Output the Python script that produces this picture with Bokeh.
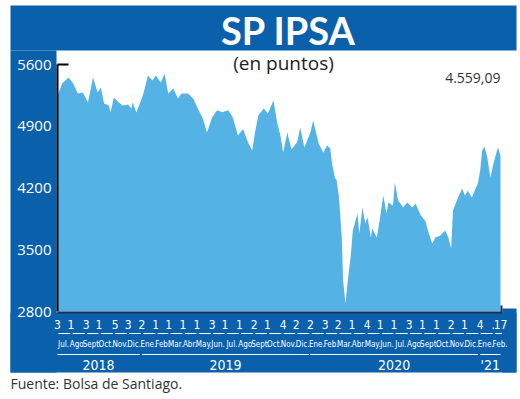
import pandas as pd
from bokeh.plotting import figure
from bokeh.models import Range1d, ColumnDataSource
from bokeh.core.properties import value
from bokeh.embed import file_html
from bokeh.resources import INLINE

# ---------------- data ----------------
dates = [
    "2018-07-03", "2018-07-05", "2018-07-13", "2018-07-27", "2018-08-06", "2018-08-16",
    "2018-08-27", "2018-09-07", "2018-09-18", "2018-09-28", "2018-10-05", "2018-10-12",
    "2018-10-22", "2018-10-26", "2018-11-02", "2018-11-13", "2018-11-21", "2018-12-03",
    "2018-12-10", "2018-12-13", "2018-12-21", "2019-01-04", "2019-01-15", "2019-01-25",
    "2019-02-01", "2019-02-12", "2019-02-20", "2019-02-28", "2019-03-11", "2019-03-21",
    "2019-03-29", "2019-04-12", "2019-04-23", "2019-05-03", "2019-05-14", "2019-05-23",
    "2019-06-03", "2019-06-14", "2019-06-25", "2019-07-08", "2019-07-18", "2019-07-29",
    "2019-08-09", "2019-08-20", "2019-08-29", "2019-09-04", "2019-09-11", "2019-09-23",
    "2019-10-02", "2019-10-14", "2019-10-22", "2019-10-29", "2019-11-04", "2019-11-13",
    "2019-11-22", "2019-12-04", "2019-12-11", "2019-12-20", "2020-01-02", "2020-01-08",
    "2020-01-20", "2020-01-30", "2020-02-07", "2020-02-14", "2020-02-18", "2020-02-24",
    "2020-02-28", "2020-03-04", "2020-03-10", "2020-03-13", "2020-03-18", "2020-03-23",
    "2020-03-30", "2020-04-03", "2020-04-13", "2020-04-17", "2020-04-24", "2020-04-30",
    "2020-05-05", "2020-05-12", "2020-05-15", "2020-05-25", "2020-06-01", "2020-06-08",
    "2020-06-15", "2020-06-19", "2020-06-29", "2020-07-03", "2020-07-10", "2020-07-21",
    "2020-07-30", "2020-08-10", "2020-08-17", "2020-08-28", "2020-09-07", "2020-09-14",
    "2020-09-22", "2020-09-29", "2020-10-09", "2020-10-20", "2020-10-27", "2020-11-02",
    "2020-11-06", "2020-11-17", "2020-11-26", "2020-12-02", "2020-12-08", "2020-12-17",
    "2020-12-23", "2020-12-30", "2021-01-04", "2021-01-08", "2021-01-13", "2021-01-19",
    "2021-01-26", "2021-02-02", "2021-02-08", "2021-02-12", "2021-02-17",
]
ipsa = [
    5250, 5272, 5385, 5453, 5385, 5272,
    5283, 5170, 5453, 5283, 5340, 5158,
    5136, 5057, 5227, 5170, 5136, 5147,
    5102, 5170, 5057, 5249, 5476, 5419,
    5476, 5396, 5498, 5272, 5329, 5215,
    5272, 5272, 5215, 5102, 4988, 4830,
    5000, 5080, 5060, 5080, 5000, 4796,
    4870, 4716, 4625, 4830, 5022, 5102,
    5045, 5193, 4943, 4796, 4600, 4830,
    4640, 4716, 4886, 4660, 4830, 4966,
    4705, 4600, 4682, 4650, 4478, 4320,
    4285, 4093, 3640, 3150, 2890, 3150,
    3458, 3718, 3911, 3684, 3980, 3800,
    3866, 3640, 3740, 3640, 3866, 4115,
    3911, 4036, 4000, 4263, 4060, 3980,
    4036, 3980, 4025, 3890, 3830, 3696,
    3570, 3640, 3660, 3718, 3640, 3514,
    3945, 4093, 4195, 4115, 4170, 4093,
    4170, 4250, 4400, 4620, 4670, 4560,
    4320, 4480, 4600, 4660, 4559.09,
]
y_ticks = [2800, 3500, 4200, 4900, 5600]
months = ["2018-07", "2018-08", "2018-09", "2018-10", "2018-11", "2018-12",
          "2019-01", "2019-02", "2019-03", "2019-04", "2019-05", "2019-06",
          "2019-07", "2019-08", "2019-09", "2019-10", "2019-11", "2019-12",
          "2020-01", "2020-02", "2020-03", "2020-04", "2020-05", "2020-06",
          "2020-07", "2020-08", "2020-09", "2020-10", "2020-11", "2020-12",
          "2021-01", "2021-02"]
month_labels = ["Jul.", "Ago.", "Sept.", "Oct.", "Nov.", "Dic.",
                "Ene.", "Feb.", "Mar.", "Abr.", "May.", "Jun.",
                "Jul.", "Ago.", "Sept.", "Oct.", "Nov.", "Dic.",
                "Ene.", "Feb.", "Mar.", "Abr.", "May.", "Jun.",
                "Jul.", "Ago.", "Sept.", "Oct.", "Nov.", "Dic.",
                "Ene.", "Feb."]
first_days = ["3", "1", "3", "1", "5", "3", "2", "1", "1", "1", "1", "3",
              "1", "1", "2", "1", "4", "2", "2", "3", "2", "1", "4", "1",
              "1", "3", "1", "1", "2", "1", "4", "."]
last_day_label = "17"
years = ["2018", "2019", "2020", "'21"]
year_first = ["2018-07-03", "2019-01-02", "2020-01-02", "2021-01-04"]
year_last = ["2018-12-28", "2019-12-30", "2020-12-30", "2021-02-17"]

title = "SP IPSA"
subtitle = "(en puntos)"
source_note = "Fuente: Bolsa de Santiago."

# ---------------- layout helpers ----------------
W, H = 520, 399
DARK = "#0a60aa"
LIGHT = "#55b2e4"
NARROW = value("DejaVu Sans Condensed")
SANS = value("Open Sans")


def ms(d):
    return (pd.Timestamp(d) - pd.Timestamp("1970-01-01")) / pd.Timedelta(milliseconds=1)


T0 = ms(dates[0])
T1 = ms(dates[-1])
PX_PER_MS = 443.0 / (T1 - T0)          # px 57 -> first date, px 500 -> last date
VAL_PER_PX = (y_ticks[-1] - y_ticks[0]) / 247.0  # 2800 at py 311, 5600 at py 64


def X(px):
    return T0 + (px - 57) / PX_PER_MS


def Y(py):
    return y_ticks[0] + (311 - py) * VAL_PER_PX


p = figure(width=W, height=H, output_backend="svg", toolbar_location=None,
           x_range=Range1d(X(0), X(W)), y_range=Range1d(Y(H), Y(0)),
           x_axis_type=None, y_axis_type=None, min_border=0,
           background_fill_color="white", border_fill_color="white")
p.outline_line_color = None
p.grid.visible = False

# dark panels
p.quad(left=[X(10), X(10), X(10), X(502)], right=[X(516), X(56), X(516), X(516)],
       top=[Y(5), Y(50), Y(312), Y(308)], bottom=[Y(50), Y(372), Y(372), Y(372)],
       fill_color=DARK, line_color=None)

# area
xs = [ms(d) for d in dates]
src = ColumnDataSource(dict(x=xs, y=ipsa))
p.varea(x="x", y1=y_ticks[0], y2="y", source=src, fill_color=LIGHT)

# shadow bottom/right
p.line(x=[X(57), X(501), X(501)], y=[Y(312), Y(312), Y(305)], line_color="#1d2f55", line_width=2)

# y axis line + top tick
p.line(x=[T0, T0], y=[y_ticks[0], y_ticks[-1]], line_color="black", line_width=2)
p.line(x=[T0, X(68)], y=[y_ticks[-1], y_ticks[-1]], line_color="black", line_width=2)

# y tick labels
p.text(x=[X(51)] * len(y_ticks), y=y_ticks, text=[str(t) for t in y_ticks],
       text_align="right", text_baseline="middle", text_color="white",
       text_font=SANS, text_font_size="15px")

# title / subtitle / last value
p.text(x=[X(288)], y=[Y(29)], text=[title], text_align="center", text_baseline="middle",
       text_color="white", text_font=value("Lato"), text_font_style="bold",
       text_font_size="38px")
p.text(x=[X(283)], y=[Y(62)], text=[subtitle], text_align="center", text_baseline="middle",
       text_color="#222222", text_font=SANS, text_font_size="19px")
last_txt = f"{ipsa[-1]:,.2f}".replace(",", "X").replace(".", ",").replace("X", ".")
p.text(x=[X(500)], y=[Y(77)], text=[last_txt], text_align="right", text_baseline="middle",
       text_color="#333333", text_font=SANS, text_font_size="14px")

# day-number row
day_dates = [ms(f"{m}-{int(d) if d.isdigit() else 1:02d}") for m, d in zip(months, first_days)]
p.text(x=day_dates + [T1], y=[Y(324)] * (len(day_dates) + 1), text=first_days + [last_day_label],
       text_align="center", text_baseline="middle", text_color="white",
       text_font=NARROW, text_font_size="12px")

# underline segments per month
mstarts = [ms(m + "-01") for m in months]
DAY = 86400000.0
seg_x0 = [s + 4 * DAY for s in mstarts]
seg_x1 = [s - 1 * DAY for s in mstarts[1:]] + [T1 + 3 * DAY]
p.segment(x0=seg_x0, y0=[Y(333)] * len(seg_x0), x1=seg_x1, y1=[Y(333)] * len(seg_x0),
          line_color="white", line_width=1)

# month labels
mid = [s + 15 * DAY for s in mstarts]
p.text(x=mid, y=[Y(344)] * len(mid), text=month_labels, text_align="center",
       text_baseline="middle", text_color="white", text_font=NARROW, text_font_size="8px")

# year lines and labels
yx0 = [ms(d) for d in year_first]
yx1 = [ms(d) for d in year_last]
p.segment(x0=yx0, y0=[Y(354)] * 4, x1=yx1, y1=[Y(354)] * 4, line_color="white", line_width=1)
p.text(x=[(a + b) / 2 for a, b in zip(yx0, yx1)], y=[Y(364)] * 4, text=years,
       text_align="center", text_baseline="middle", text_color="white",
       text_font=NARROW, text_font_size="14px")

# source
p.text(x=[X(10)], y=[Y(383)], text=[source_note], text_align="left", text_baseline="middle",
       text_color="#333333", text_font=SANS, text_font_size="14px")

open("out.html", "w").write(file_html(p, INLINE))
